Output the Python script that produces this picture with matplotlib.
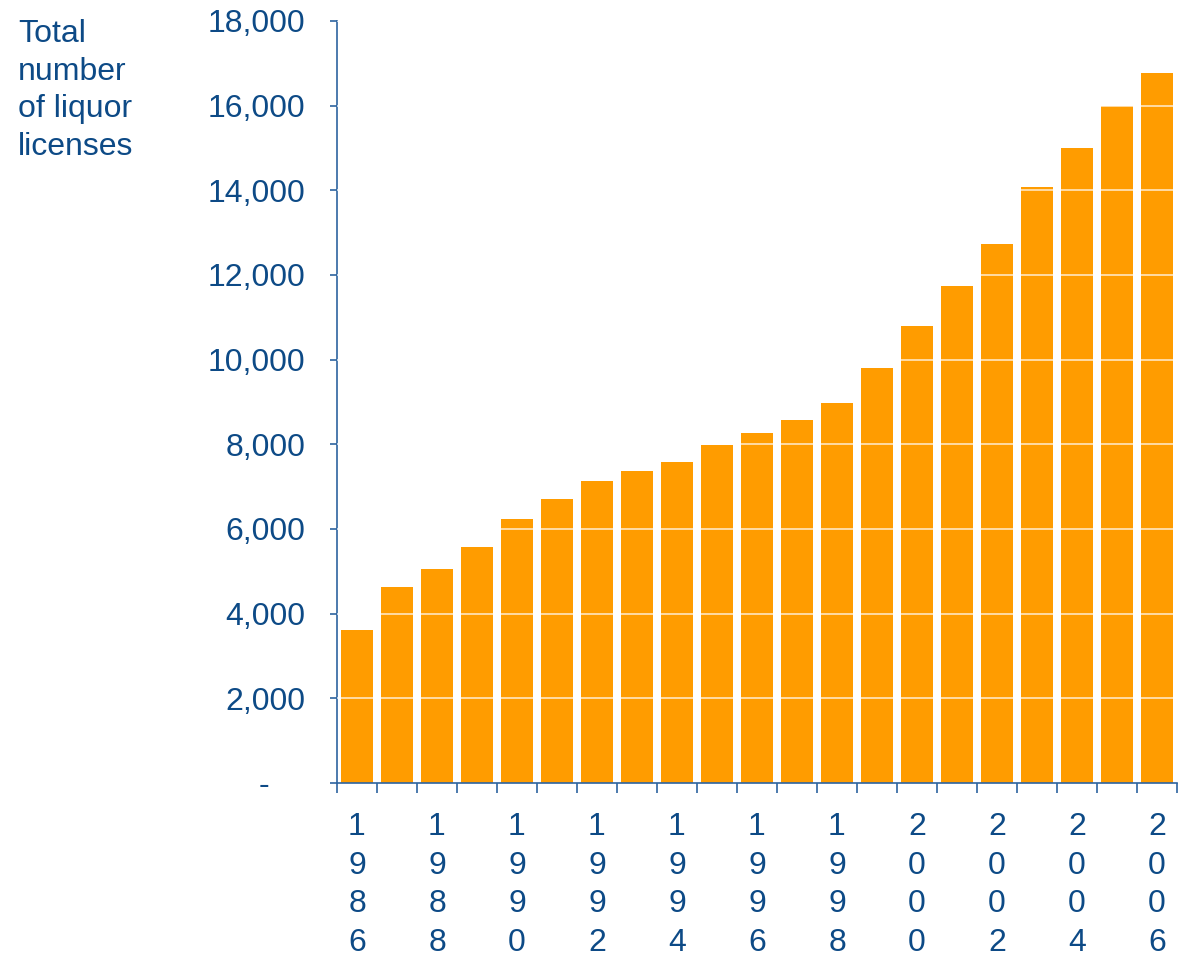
import matplotlib.pyplot as plt

# Data
years = list(range(1986, 2007))
licenses = [3620, 4640, 5050, 5570, 6230, 6700, 7130, 7370, 7580, 7980,
            8270, 8570, 8980, 9810, 10800, 11730, 12740, 14090, 15010, 15990, 16770]
y_ticks = [0, 2000, 4000, 6000, 8000, 10000, 12000, 14000, 16000, 18000]

text_col = '#0D4A86'
axis_col = '#2E64A0'
bar_col = '#FF9C00'

plt.rcParams['font.family'] = ['Liberation Sans', 'DejaVu Sans']

fig = plt.figure(figsize=(11.84, 9.59), dpi=100)
ax = fig.add_axes([337 / 1184, 1 - 783 / 959, 840 / 1184, 762 / 959])

x = list(range(len(years)))
ax.bar(x, licenses, width=0.78, color=bar_col, zorder=2)

# white gridlines shown only over the bars
for v in y_ticks[1:]:
    ax.axhline(v, color='white', lw=1.2, alpha=0.75, zorder=3)

ax.set_xlim(-0.5, len(years) - 0.5)
ax.set_ylim(0, 18000)

ax.set_yticks(y_ticks)
ax.set_yticklabels(['-    ' if v == 0 else f'{v:,}' for v in y_ticks])
ax.tick_params(axis='y', colors=axis_col, labelcolor=text_col, labelsize=23,
               length=5, width=1.2, pad=18, direction='out')

# boundary ticks between bars, labels under every other year
ax.set_xticks([i - 0.5 for i in range(len(years) + 1)])
ax.set_xticklabels([])
ax.tick_params(axis='x', which='major', colors=axis_col, length=7, width=1.2,
               direction='out')
lab_pos = [i for i, yr in enumerate(years) if yr % 2 == 0]
ax.set_xticks(lab_pos, minor=True)
ax.set_xticklabels(['\n'.join(str(years[i])) for i in lab_pos], minor=True,
                   linespacing=1.37)
ax.tick_params(axis='x', which='minor', length=0, labelcolor=text_col,
               labelsize=23, pad=21)

for s in ['top', 'right']:
    ax.spines[s].set_visible(False)
for s in ['left', 'bottom']:
    ax.spines[s].set_color(axis_col)
    ax.spines[s].set_linewidth(1.2)

fig.text(18 / 1184, 1 - 19 / 959, 'Total\nnumber\nof liquor\nlicenses',
         ha='left', va='top', fontsize=23, color=text_col, linespacing=1.33)

fig.savefig('out.png', dpi=100, facecolor='white')
